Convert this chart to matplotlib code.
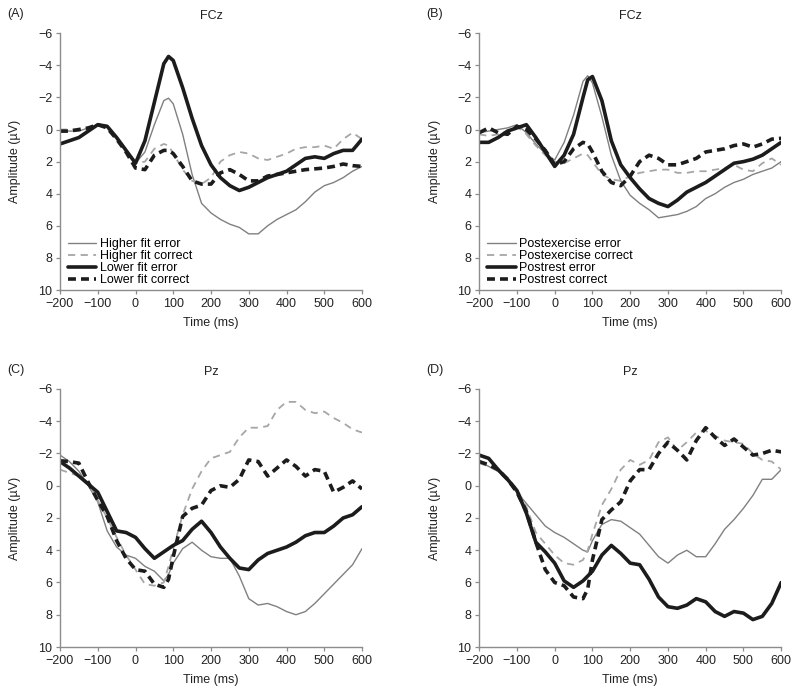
import matplotlib
matplotlib.use("Agg")
import matplotlib.pyplot as plt
import numpy as np

plt.rcParams["font.family"] = ["Liberation Sans", "DejaVu Sans"]
plt.rcParams["axes.unicode_minus"] = True

# time axis (ms), shared by every curve
TIME = [-200, -175, -150, -125, -100, -75, -50, -25, 0, 25, 50, 75, 87.5, 100,
        125, 150, 175, 200, 225, 250, 275, 300, 325, 350, 375, 400, 425, 450,
        475, 500, 525, 550, 575, 600]

# (A) FCz, fitness groups
A_HIGH_ERR = [0.0, 0.1, 0.1, -0.1, -0.3, -0.2, 0.5, 1.3, 2.1, 1.4, -0.3, -1.8, -1.95, -1.6,
              0.3, 2.8, 4.6, 5.2, 5.6, 5.9, 6.1, 6.5, 6.5, 6.0, 5.6, 5.3, 5.0, 4.5,
              3.9, 3.5, 3.3, 3.0, 2.6, 2.3]
A_HIGH_COR = [0.0, 0.0, 0.0, 0.0, -0.3, -0.1, 0.6, 1.3, 2.1, 2.0, 1.2, 0.9, 1.0, 1.5,
              2.5, 3.2, 3.4, 3.0, 2.0, 1.6, 1.4, 1.5, 1.8, 1.9, 1.7, 1.5, 1.2, 1.1,
              1.1, 1.0, 1.2, 0.6, 0.2, 0.6]
A_LOW_ERR = [0.9, 0.7, 0.5, 0.1, -0.3, -0.2, 0.5, 1.3, 2.1, 0.7, -1.7, -4.1, -4.55, -4.3,
             -2.6, -0.7, 1.0, 2.2, 3.0, 3.5, 3.8, 3.6, 3.3, 3.0, 2.8, 2.6, 2.2, 1.8,
             1.7, 1.8, 1.5, 1.3, 1.3, 0.6]
A_LOW_COR = [0.1, 0.1, 0.0, -0.1, -0.3, -0.1, 0.6, 1.4, 2.4, 2.5, 1.6, 1.3, 1.3, 1.5,
             2.3, 3.2, 3.4, 3.4, 2.7, 2.5, 2.8, 3.2, 3.2, 2.9, 2.8, 2.7, 2.6, 2.5,
             2.45, 2.4, 2.3, 2.15, 2.25, 2.3]

# (B) FCz, exercise vs rest
B_EX_ERR = [0.2, 0.1, 0.0, -0.1, -0.3, 0.2, 0.9, 1.5, 1.9, 0.8, -0.9, -3.0, -3.35, -2.9,
            -0.8, 1.6, 3.2, 4.1, 4.6, 5.0, 5.5, 5.4, 5.3, 5.1, 4.8, 4.3, 4.0, 3.6,
            3.3, 3.1, 2.8, 2.6, 2.4, 2.0]
B_EX_COR = [0.3, 0.4, 0.3, 0.1, -0.2, 0.3, 1.0, 1.6, 2.0, 2.1, 1.8, 1.5, 1.6, 2.0,
            2.8, 3.1, 3.2, 2.9, 2.7, 2.6, 2.5, 2.5, 2.7, 2.7, 2.6, 2.6, 2.5, 2.4,
            2.2, 2.5, 2.6, 2.1, 1.8, 2.2]
B_REST_ERR = [0.8, 0.8, 0.5, 0.1, -0.1, -0.3, 0.5, 1.4, 2.3, 1.6, 0.3, -2.0, -3.1, -3.3,
              -1.8, 0.7, 2.2, 3.0, 3.7, 4.3, 4.6, 4.8, 4.4, 3.9, 3.6, 3.3, 2.9, 2.5,
              2.1, 2.0, 1.85, 1.6, 1.2, 0.8]
B_REST_COR = [0.2, -0.1, 0.2, 0.3, -0.2, 0.0, 0.6, 1.3, 2.2, 2.0, 1.2, 0.8, 0.9, 1.4,
              2.6, 3.3, 3.5, 2.9, 2.0, 1.6, 1.8, 2.2, 2.2, 2.0, 1.8, 1.4, 1.3, 1.2,
              1.0, 0.9, 1.1, 0.9, 0.6, 0.55]

# (C) Pz, fitness groups
C_HIGH_ERR = [-1.9, -1.5, -0.9, 0.0, 1.0, 2.8, 3.8, 4.3, 4.5, 5.0, 5.3, 5.9, 5.5, 4.8,
              3.9, 3.5, 4.0, 4.4, 4.5, 4.5, 5.6, 7.0, 7.4, 7.3, 7.5, 7.8, 8.0, 7.8,
              7.3, 6.7, 6.1, 5.5, 4.9, 3.9]
C_HIGH_COR = [-1.0, -0.8, -0.6, -0.2, 0.9, 2.0, 3.2, 4.3, 5.2, 6.1, 6.2, 6.0, 5.0, 3.9,
              1.8, 0.2, -0.9, -1.7, -1.9, -2.1, -3.0, -3.6, -3.6, -3.7, -4.7, -5.2, -5.2, -4.7,
              -4.5, -4.6, -4.2, -3.9, -3.5, -3.3]
C_LOW_ERR = [-1.5, -1.1, -0.6, -0.1, 0.4, 1.6, 2.8, 2.9, 3.2, 3.9, 4.5, 4.1, 3.9, 3.7,
             3.4, 2.7, 2.2, 2.9, 3.8, 4.5, 5.1, 5.2, 4.6, 4.2, 4.0, 3.8, 3.5, 3.1,
             2.9, 2.9, 2.5, 2.0, 1.8, 1.3]
C_LOW_COR = [-1.55, -1.5, -1.4, -0.2, 0.9, 1.9, 3.4, 4.5, 5.2, 5.3, 6.1, 6.3, 5.8, 4.4,
             1.9, 1.4, 1.2, 0.3, 0.0, 0.1, -0.4, -1.6, -1.5, -0.6, -1.1, -1.6, -1.2, -0.6,
             -1.0, -0.9, 0.4, 0.1, -0.3, 0.2]

# (D) Pz, exercise vs rest
D_EX_ERR = [-1.5, -1.2, -0.9, -0.3, 0.4, 1.1, 1.8, 2.5, 2.9, 3.2, 3.6, 4.0, 4.1, 3.4,
            2.4, 2.1, 2.2, 2.6, 3.0, 3.7, 4.4, 4.8, 4.3, 4.0, 4.4, 4.4, 3.6, 2.7,
            2.1, 1.4, 0.6, -0.4, -0.4, -1.0]
D_EX_COR = [-1.4, -1.2, -0.9, -0.5, 0.2, 1.3, 2.9, 3.6, 4.3, 4.8, 4.9, 4.6, 4.0, 3.0,
            1.2, 0.2, -1.0, -1.6, -1.3, -1.6, -2.7, -3.0, -2.2, -2.7, -3.3, -3.4, -3.1, -2.8,
            -2.7, -2.6, -2.0, -1.6, -1.5, -1.0]
D_REST_ERR = [-1.9, -1.7, -1.0, -0.4, 0.3, 1.7, 3.5, 4.1, 4.8, 5.9, 6.3, 5.9, 5.6, 5.3,
              4.3, 3.7, 4.2, 4.8, 4.9, 5.8, 6.9, 7.5, 7.6, 7.4, 7.0, 7.2, 7.8, 8.1,
              7.8, 7.9, 8.3, 8.1, 7.3, 6.0]
D_REST_COR = [-1.5, -1.3, -1.0, -0.4, 0.4, 1.6, 3.5, 5.2, 6.0, 6.2, 6.9, 7.0, 6.4, 4.6,
              2.1, 1.5, 1.0, -0.3, -1.0, -1.0, -2.0, -2.7, -2.2, -1.6, -2.8, -3.6, -3.0, -2.5,
              -2.9, -2.4, -1.9, -2.0, -2.2, -2.1]

LABELS_FIT = ["Higher fit error", "Higher fit correct", "Lower fit error", "Lower fit correct"]
LABELS_EX = ["Postexercise error", "Postexercise correct", "Postrest error", "Postrest correct"]

STYLES = [
    dict(color="#808080", lw=1.0, ls="-"),
    dict(color="#a6a6a6", lw=1.3, ls=(0, (4, 3))),
    dict(color="#1c1c1c", lw=2.6, ls="-"),
    dict(color="#1c1c1c", lw=2.6, ls=(0, (2.2, 1.4))),
]


def draw_panel(ax, curves, labels, letter, title, legend):
    t = np.array(TIME)
    for vals, lab, st in zip(curves, labels, STYLES):
        ax.plot(t, np.array(vals), label=lab, solid_capstyle="round",
                solid_joinstyle="round", dash_capstyle="butt", **st)
    ax.set_xlim(-200, 600)
    ax.set_ylim(10, -6)
    ax.set_xticks(np.arange(-200, 601, 100))
    ax.set_yticks(np.arange(-6, 11, 2))
    for side in ("top", "right"):
        ax.spines[side].set_visible(False)
    for side in ("left", "bottom"):
        ax.spines[side].set_color("#8c8c8c")
        ax.spines[side].set_linewidth(1.0)
    ax.tick_params(axis="both", labelsize=9, length=3, width=0.9, color="#8c8c8c",
                   labelcolor="#222222", pad=2.5)
    ax.set_xlabel("Time (ms)", fontsize=9, labelpad=5, color="#222222")
    ax.set_ylabel("Amplitude (\u00b5V)", fontsize=9, labelpad=12, color="#222222")
    ax.set_title(title, fontsize=9, pad=10, color="#222222")
    ax.text(-0.175, 1.073, letter, transform=ax.transAxes, fontsize=9,
            color="#222222", ha="left", va="center")
    if legend:
        ax.legend(loc="lower left", bbox_to_anchor=(0.025, 0.015), frameon=False,
                  fontsize=9, handlelength=2.3, handletextpad=0.3,
                  labelspacing=0.0, borderpad=0, borderaxespad=0)


fig = plt.figure(figsize=(8, 6.96), dpi=100)
ax_a = fig.add_axes([0.075, 0.5833, 0.3775, 0.369])
ax_b = fig.add_axes([0.599, 0.5833, 0.3775, 0.369])
ax_c = fig.add_axes([0.075, 0.0704, 0.3775, 0.3707])
ax_d = fig.add_axes([0.599, 0.0704, 0.3775, 0.3707])

draw_panel(ax_a, [A_HIGH_ERR, A_HIGH_COR, A_LOW_ERR, A_LOW_COR], LABELS_FIT, "(A)", "FCz", True)
draw_panel(ax_b, [B_EX_ERR, B_EX_COR, B_REST_ERR, B_REST_COR], LABELS_EX, "(B)", "FCz", True)
draw_panel(ax_c, [C_HIGH_ERR, C_HIGH_COR, C_LOW_ERR, C_LOW_COR], LABELS_FIT, "(C)", "Pz", False)
draw_panel(ax_d, [D_EX_ERR, D_EX_COR, D_REST_ERR, D_REST_COR], LABELS_EX, "(D)", "Pz", False)

fig.savefig("out.png", dpi=100)
